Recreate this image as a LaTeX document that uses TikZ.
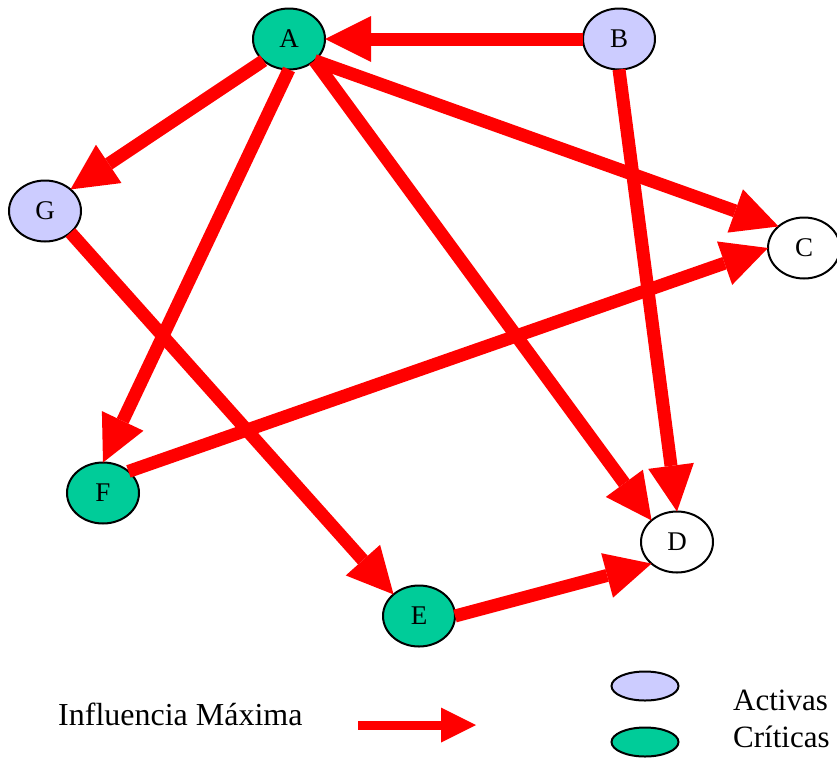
\documentclass[tikz,border=0pt]{standalone}
\usepackage{fontspec}
\setmainfont{Liberation Serif}
\usetikzlibrary{shapes.geometric,arrows.meta}
\definecolor{critgreen}{HTML}{00CC99}
\definecolor{actlav}{HTML}{CCCCFF}
\begin{document}
\begin{tikzpicture}[x=1pt,y=-1pt,
  vnode/.style={ellipse,draw=black,line width=2pt,minimum width=72pt,minimum height=61pt,inner sep=0pt,outer sep=0pt,font=\fontsize{27}{27}\selectfont},
  active/.style={vnode,fill=actlav},
  critical/.style={vnode,fill=critgreen},
  plainnode/.style={vnode,fill=white},
  legendnode/.style={ellipse,draw=black,line width=2pt,minimum width=67pt,minimum height=29pt,inner sep=0pt,outer sep=0pt},
  infl/.style={draw=red,line width=13pt,-{Triangle[length=46pt,width=46pt,line width=0pt]}},
  legendarrow/.style={draw=red,line width=9pt,-{Triangle[length=35pt,width=35pt,line width=0pt]}},
  legendtext/.style={anchor=base west,inner sep=0pt,font=\fontsize{31}{31}\selectfont}
]
\useasboundingbox (0,0) rectangle (837,763);
% nodes
\node[critical] (A) at (289,39) {A};
\node[active] (B) at (619,39) {B};
\node[active] (G) at (45,211) {G};
\node[plainnode] (C) at (804,248) {C};
\node[critical] (F) at (103,493) {F};
\node[plainnode] (D) at (677,542) {D};
\node[critical] (E) at (419,616) {E};
% edges
\draw[infl] (B.west) -- (A.east);
\draw[infl] (A.south west) -- (G.north east);
\draw[infl] (A.south) -- (F.north);
\draw[infl] (A.south east) -- (C.north west);
\draw[infl] (A.south east) -- (D.north west);
\draw[infl] (B.south) -- (D.north);
\draw[infl] (G.south east) -- (E.north west);
\draw[infl] (F.north east) -- (C.west);
\draw[infl] (E.east) -- (D.south west);
% legend
\node[legendtext,font=\fontsize{32}{32}\selectfont] (lt) at (58,725) {Influencia Máxima};
\coordinate (la1) at (358,725);
\coordinate (la2) at (476,725);
\draw[legendarrow] (la1) -- (la2);
\node[legendnode,fill=actlav] (l1) at (645,686) {};
\node[legendnode,fill=critgreen] (l2) at (645,742) {};
\node[legendtext] (t1) at (733,710) {Activas};
\node[legendtext] (t2) at (733,747) {Críticas};
\end{tikzpicture}
\end{document}
